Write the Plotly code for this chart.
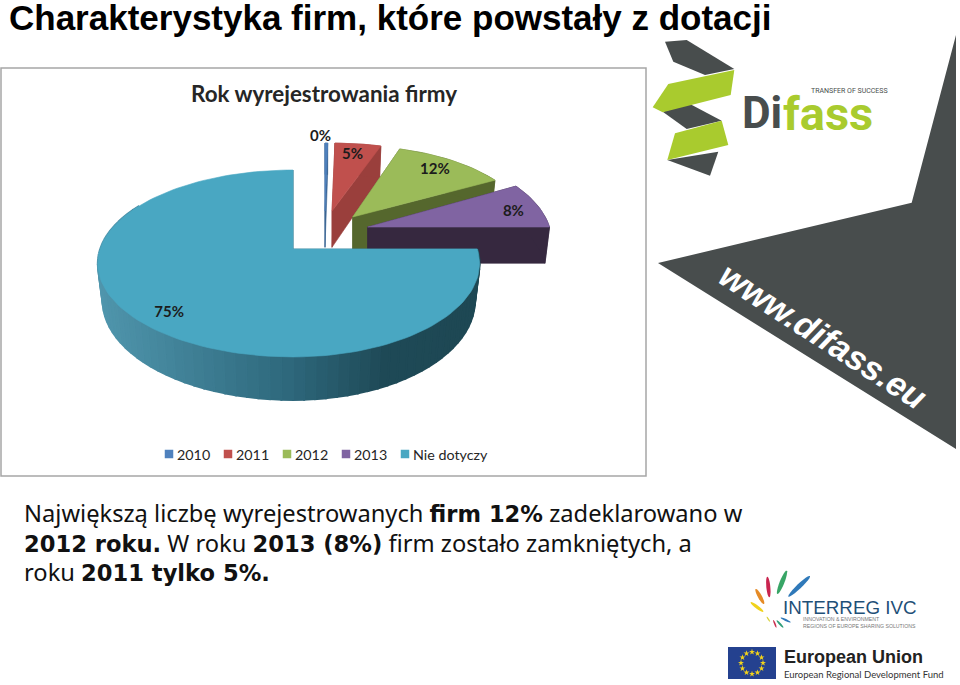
import math
import plotly.graph_objects as go

# ---------- data ----------
CATEGORIES = ["2010", "2011", "2012", "2013", "Nie dotyczy"]
VALUES = [0.3, 4.7, 12, 8, 75]
TOP_COLORS = ["#4F81BD", "#C0504D", "#9BBB59", "#8064A2", "#49A7C2"]
SIDE_COLORS = ["#3A6593", "#9A3F3C", "#55672D", "#36283F", "#2F6A7E"]

TITLE = "Charakterystyka firm, które powstały z dotacji"
CHART_TITLE = "Rok wyrejestrowania firmy"
BODY_PARTS = [
    [("Największą liczbę wyrejestrowanych ", 0), ("firm 12%", 1), (" zadeklarowano w", 0)],
    [("2012 roku.", 1), (" W roku ", 0), ("2013 (8%)", 1), (" firm zostało zamkniętych, a", 0)],
    [("roku ", 0), ("2011 tylko 5%.", 1)],
]

# ---------- pseudo-3D projection, in page pixels ----------
APEX = [(325, 211), (332, 211), (352.7, 217), (367.7, 227), (293, 249)]
SCALE = [0.86, 0.86, 0.90, 1.0, 1.0]
X_RIGHT = [1, 1.11, 1.02, 0.957, 0.97]
X_LEFT = [1, 1, 1, 1, 1.015]
LABEL_R = [1.1, 0.85, 0.8, 0.8, 0.85]
LABEL_DX = [-6, -2, 1, 9, 4]
LABEL_DY = [0, 2, -1, 3, 4]
RX, RY, PERSP, DEPTH, SHRINK = 190, 91.2, 0.155, 36.3, 0.975


def project(i, theta, r=1.0, bottom=False):
    ax, ay = APEX[i]
    s = SCALE[i]
    px = r * math.sin(math.radians(theta))
    py = r * math.cos(math.radians(theta))
    w = 1 + PERSP * py
    xs = X_RIGHT[i] if px >= 0 else X_LEFT[i]
    x = ax + s * xs * RX * px / w
    y = ay - s * RY * py / w
    if bottom:
        x = ax + (x - ax) * SHRINK
        y = y + DEPTH / w
    return x, y


def arc(i, a, b, bottom=False):
    n = max(2, int(abs(b - a) / 2) + 1)
    return [project(i, a + (b - a) * k / (n - 1), 1.0, bottom) for k in range(n)]


def poly(fig, pts, color, name, lw=0.6):
    fig.add_trace(go.Scatter(
        x=[p[0] for p in pts] + [pts[0][0]],
        y=[p[1] for p in pts] + [pts[0][1]],
        mode="lines", fill="toself", fillcolor=color,
        line=dict(color=color, width=lw),
        hoverinfo="skip", showlegend=False, name=name,
    ))


def mix(stops, f):
    f = min(1, max(0, f))
    for (f0, c0), (f1, c1) in zip(stops, stops[1:]):
        if f <= f1:
            t = (f - f0) / (f1 - f0)
            return "rgb(%d,%d,%d)" % tuple(c0[j] + (c1[j] - c0[j]) * t for j in range(3))
    return "rgb(%d,%d,%d)" % stops[-1][1]


WALL = [(0, (80, 150, 173)), (0.5, (46, 104, 124)), (0.75, (31, 74, 87)), (1, (30, 72, 84))]

fig = go.Figure()

# page decoration behind the chart
GREY = "#484D4D"
LIME = "#A9CB2E"
shapes = []


def add_poly_shape(pts, color):
    d = "M " + " L ".join(f"{x:.1f},{y:.1f}" for x, y in pts) + " Z"
    shapes.append(dict(type="path", path=d, fillcolor=color, line=dict(width=0),
                       xref="x", yref="y", layer="below"))


def zoomed(pts, ox, oy):
    return [(ox + x / 3, oy + y / 3) for x, y in pts]


add_poly_shape([(956, 35), (911.7, 202.7), (658, 263), (956, 449)], GREY)
for pts, col in [
    ([(75, 35), (140, 30), (283, 117), (195, 135), (100, 95)], GREY),
    ([(68, 245), (150, 222), (245, 272), (140, 297)], GREY),
    ([(82, 390), (235, 365), (210, 437)], GREY),
    ([(283, 120), (272, 195), (68, 247), (38, 232), (85, 162)], LIME),
    ([(105, 310), (245, 272), (265, 345), (82, 390)], LIME),
]:
    add_poly_shape(zoomed(pts, 640, 30), col)

# Interreg petals
for (x0, y0, x1, y1, wd, col) in [
    (205, 110, 270, 48, 7, "#2F79B9"), (172, 102, 200, 32, 7, "#38A566"),
    (148, 112, 142, 50, 6, "#C9244F"), (132, 132, 107, 87, 6, "#E58B27"),
    (130, 155, 92, 127, 5, "#F0D21C"), (150, 185, 140, 170, 2, "#D7D23A"),
    (169, 203, 160, 180, 2.5, "#C9304F"), (190, 203, 170, 181, 3, "#2F9E79"),
    (212, 187, 182, 173, 3, "#2F79B9"),
]:
    cx, cy = (x0 + x1) / 2, (y0 + y1) / 2
    dx, dy = (x1 - x0) / 2, (y1 - y0) / 2
    ln = math.hypot(dx, dy)
    nx, ny = -dy / ln, dx / ln
    pts = [(cx + dx * math.cos(t / 12 * math.pi) + nx * wd * math.sin(t / 12 * math.pi),
            cy + dy * math.cos(t / 12 * math.pi) + ny * wd * math.sin(t / 12 * math.pi))
           for t in range(24)]
    add_poly_shape(zoomed(pts, 720, 560), col)

# EU flag and chart frame
shapes.append(dict(type="rect", x0=728, x1=776, y0=647, y1=679, fillcolor="#24418F",
                   line=dict(width=0), layer="below"))
shapes.append(dict(type="rect", x0=1, x1=646, y0=68, y1=476, fillcolor="rgba(0,0,0,0)",
                   line=dict(color="#A6A6A6", width=1.5), layer="below"))

fig.add_trace(go.Scatter(
    x=[752 + 11 * math.sin(k * math.pi / 6) for k in range(12)],
    y=[663 - 11 * math.cos(k * math.pi / 6) for k in range(12)],
    mode="markers", marker=dict(symbol="star", size=4.5, color="#F2D31B"),
    hoverinfo="skip", showlegend=False, name="EU stars",
))

# slices
total = sum(VALUES)
start = 0.0
spans = []
for v in VALUES:
    end = start + v / total * 360
    spans.append((start, end))
    start = end

for i, (a, b) in enumerate(spans):
    name = CATEGORIES[i]
    side = SIDE_COLORS[i]
    for th in (a, b):
        poly(fig, [project(i, th, 0), project(i, th), project(i, th, 1, True), project(i, th, 0, True)], side, name)
    if i == 4:
        n = 70
        lim = min(b, 300)
        for k in range(n):
            t0 = a + (lim - a) * k / n
            t1 = a + (lim - a) * (k + 1) / n
            x_mid = project(i, (t0 + t1) / 2)[0]
            poly(fig, arc(i, t0, t1) + arc(i, t1, t0, True), mix(WALL, (x_mid - 98) / 382), name, 2)
    else:
        poly(fig, arc(i, a, b) + arc(i, b, a, True), side, name)
    poly(fig, [project(i, a, 0)] + arc(i, a, b), TOP_COLORS[i], name)

# data labels
lx, ly, lt = [], [], []
for i, (a, b) in enumerate(spans):
    x, y = project(i, (a + b) / 2, LABEL_R[i])
    lx.append(x + LABEL_DX[i])
    ly.append(y + LABEL_DY[i])
    lt.append(f"{round(VALUES[i])}%")
fig.add_trace(go.Scatter(
    x=lx, y=ly, text=lt, mode="text", textposition="middle center",
    textfont=dict(family="Lato", size=15, color="#1C1C1C", weight="bold"),
    hoverinfo="skip", showlegend=False, name="labels",
))

# legend
LEG_X = [169, 228, 287, 346, 405]
for i, c in enumerate(CATEGORIES):
    fig.add_trace(go.Scatter(
        x=[LEG_X[i]], y=[454], mode="markers",
        marker=dict(symbol="square", size=8.5, color=TOP_COLORS[i]),
        hoverinfo="skip", showlegend=False, name=c,
    ))


def note(x, y, text, family, size, color, anchor="left", angle=0, **fontkw):
    return dict(x=x, y=y, xref="x", yref="y", text=text, showarrow=False, xanchor=anchor,
                yanchor="middle", textangle=angle, borderpad=0,
                font=dict(family=family, size=size, color=color, **fontkw))


def body_line(parts):
    out = ""
    for t, bold in parts:
        if bold:
            out += f'<span style="font-family:DejaVu Sans;font-weight:bold;font-size:22.6px">{t}</span>'
        else:
            out += t
    return out


BODY_FONT = "Noto Sans"
annotations = [note(LEG_X[i] + 7, 454, c, "Lato", 14.3, "#262626") for i, c in enumerate(CATEGORIES)]
annotations += [
    note(8, 17, f"<b>{TITLE}</b>", "Liberation Sans", 35, "#000000"),
    note(324, 93, f"<b>{CHART_TITLE}</b>", "Lato", 22.4, "#262626", "center"),
    note(23, 513, body_line(BODY_PARTS[0]), BODY_FONT, 23.7, "#111111"),
    note(23, 543, body_line(BODY_PARTS[1]), BODY_FONT, 23.7, "#111111"),
    note(23, 572, body_line(BODY_PARTS[2]), BODY_FONT, 23.7, "#111111"),
    note(823, 336, "<b><i>www.difass.eu</i></b>", "Liberation Sans", 34.5, "#FFFFFF", "center", 32.8),
    note(741, 113, "<b>Di</b>", "Roboto", 44, GREY),
    note(782, 113, "<b>fass</b>", "Roboto", 47, LIME),
    note(810, 91, "TRANSFER OF SUCCESS", "Roboto", 7, GREY),
    note(782, 607, "INTERREG IVC", "Liberation Sans", 18.8, "#1F5078"),
    note(802, 619, "INNOVATION &amp; ENVIRONMENT", "Liberation Sans", 5.2, "#777777"),
    note(802, 626, "REGIONS OF EUROPE SHARING SOLUTIONS", "Liberation Sans", 5.2, "#777777"),
    note(783, 657, "<b>European Union</b>", "Liberation Sans", 18, "#222222"),
    note(783, 674, "European Regional Development Fund", "Lato", 9.5, "#333333"),
]

fig.update_layout(
    width=960, height=685, margin=dict(l=0, r=0, t=0, b=0),
    paper_bgcolor="white", plot_bgcolor="white", showlegend=False,
    xaxis=dict(range=[0, 960], visible=False, fixedrange=True),
    yaxis=dict(range=[685, 0], visible=False, fixedrange=True),
    shapes=shapes, annotations=annotations,
)
fig.write_html("out.html", config={"displayModeBar": False},
               post_script="document.body.style.margin='0';document.body.style.overflow='hidden';")
